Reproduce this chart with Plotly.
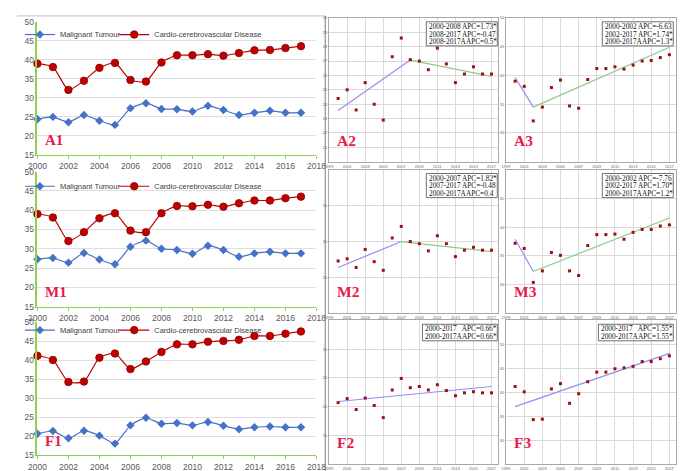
import plotly.graph_objects as go

W, H = 685, 471

# ---------------- data ----------------
years = list(range(2000, 2018))
left_xticks = list(range(2000, 2019, 2))
small_xticks = list(range(1999, 2018, 2))

a_tumour = [24.4, 25.0, 23.6, 25.5, 24.0, 22.9, 27.3, 28.6, 27.1, 27.0, 26.4, 27.9, 26.8, 25.5, 26.1, 26.6, 26.1, 26.1]
a_cardio = [39.0, 38.1, 32.1, 34.5, 37.9, 39.2, 34.7, 34.3, 39.3, 41.2, 41.2, 41.5, 41.1, 41.8, 42.5, 42.6, 43.1, 43.6]
m_tumour = [27.3, 27.6, 26.4, 28.9, 27.2, 26.0, 30.5, 32.1, 30.0, 29.7, 28.7, 30.8, 29.7, 27.9, 28.8, 29.2, 28.8, 28.8]
m_cardio = [39.0, 38.1, 32.0, 34.3, 37.9, 39.2, 34.7, 34.3, 39.2, 41.1, 41.0, 41.4, 40.9, 41.8, 42.5, 42.5, 43.1, 43.5]
m_cardio_jp = [37.2, 36.3, 30.4, 32.4, 35.6, 35.1, 32.4, 31.6, 36.8, 38.7, 38.7, 38.8, 37.9, 39.1, 39.6, 39.6, 40.2, 40.4]
f_tumour = [20.7, 21.4, 19.5, 21.5, 20.2, 18.1, 22.9, 24.9, 23.3, 23.5, 22.9, 23.8, 22.8, 21.9, 22.4, 22.6, 22.4, 22.4]
f_cardio = [41.2, 40.1, 34.3, 34.4, 40.7, 41.8, 37.7, 39.7, 42.2, 44.2, 44.2, 44.9, 45.1, 45.4, 46.4, 46.4, 47.0, 47.6]

# joinpoint fitted segments: (x list, y list)
a2_seg1 = ([2000, 2008], [23.56, 27.07]); a2_seg2 = ([2008, 2017], [27.07, 25.93])
a3_seg1 = ([2000, 2002], [39.65, 34.5]);  a3_seg2 = ([2002, 2017], [34.5, 44.9])
m2_seg1 = ([2000, 2007], [26.4, 30.0]);   m2_seg2 = ([2007, 2017], [30.0, 28.6])
m3_seg1 = ([2000, 2002], [37.9, 32.3]);   m3_seg2 = ([2002, 2017], [32.3, 41.6])
f2_seg1 = ([2000, 2017], [20.9, 23.5])
f3_seg1 = ([2000, 2017], [37.0, 48.1])

a2_text = ["2000-2008 APC=1.73*", "2008-2017 APC=-0.47", "2008-2017AAPC=0.5*"]
a3_text = ["2000-2002 APC=-6.63", "2002-2017 APC=1.74*", "2000-2017AAPC=1.3*"]
m2_text = ["2000-2007 APC=1.82*", "2007-2017 APC=-0.48", "2000-2017AAPC=0.4"]
m3_text = ["2000-2002 APC=-7.76", "2002-2017 APC=1.70*", "2000-2017AAPC=1.2*"]
f2_text = ["2000-2017   APC=0.66*", "2000-2017AAPC=0.66*"]
f3_text = ["2000-2017   APC=1.55*", "2000-2017AAPC=1.55*"]

series_names = ["Malignant Tumour", "Cardio-cerebrovascular Disease"]

# ---------------- helpers ----------------
def fx(p):
    return p / W

def fy(p):
    return 1 - p / H

fig = go.Figure()
layout = dict(width=W, height=H, margin=dict(l=0, r=0, t=0, b=0),
              paper_bgcolor="white", plot_bgcolor="white", showlegend=True)
shapes, annotations = [], []

BLUE = "#4472c4"
RED = "#c00000"
GREEN_AX = "#92d050"
LABEL_COL = "#e8194b"
LEG_FONT = dict(family="Liberation Sans", size=7.5, color="#404040")

# ---------- left panels ----------
left_panels = [
    ("A1", a_tumour, a_cardio, (9, 145), 21),
    ("M1", m_tumour, m_cardio, (162, 300), 176),
    ("F1", f_tumour, f_cardio, (316, 452), 323),
]
for i, (lab, tum, car, (top, bot), leg_y) in enumerate(left_panels):
    k = i + 1
    xs = "" if k == 1 else str(k)
    leg1 = "legend" if i == 0 else "legend" + str(2 * i + 1)
    leg2 = "legend" + str(2 * i + 2)
    fig.add_trace(go.Scatter(x=years, y=tum, mode="lines+markers", name=series_names[0],
                             xaxis="x" + xs, yaxis="y" + xs, legend=leg1, cliponaxis=False,
                             line=dict(color=BLUE, width=1.2, shape="spline", smoothing=0.5),
                             marker=dict(symbol="diamond", size=6.5, color=BLUE)))
    fig.add_trace(go.Scatter(x=years, y=car, mode="lines+markers", name=series_names[1],
                             xaxis="x" + xs, yaxis="y" + xs, legend=leg2, cliponaxis=False,
                             line=dict(color=RED, width=1.2, shape="spline", smoothing=0.6),
                             marker=dict(symbol="circle", size=7.5, color=RED,
                                         line=dict(color="#8b0000", width=0.8))))
    layout["xaxis" + xs] = dict(domain=[fx(21), fx(308)], range=[2000, 2018], anchor="y" + xs,
                                tickvals=left_xticks, showgrid=False, zeroline=False,
                                showline=True, linecolor=GREEN_AX, linewidth=1,
                                ticks="outside", ticklen=3, tickcolor=GREEN_AX,
                                tickfont=dict(family="Liberation Sans", size=8.5, color="#595959"))
    layout["yaxis" + xs] = dict(domain=[fy(bot), fy(top)], range=[15, 50], anchor="x" + xs,
                                dtick=5, tick0=15, showgrid=True, gridcolor="#dedede", zeroline=False,
                                showline=True, linecolor=GREEN_AX, linewidth=1.5, ticks="",
                                tickfont=dict(family="Liberation Sans", size=8.5, color="#595959"))
    layout[leg1] = dict(x=fx(3), y=fy(leg_y + 1), xanchor="left", yanchor="middle",
                        bgcolor="rgba(0,0,0,0)", itemwidth=30, font=LEG_FONT)
    layout[leg2] = dict(x=fx(100), y=fy(leg_y + 1), xanchor="left", yanchor="middle",
                        bgcolor="rgba(0,0,0,0)", itemwidth=30, font=LEG_FONT)
    annotations.append(dict(text="<b>" + lab + "</b>", xref="paper", yref="paper",
                            x=fx(27), y=fy(bot - 15), xanchor="left", yanchor="middle",
                            showarrow=False,
                            font=dict(family="Liberation Serif", size=15, color=LABEL_COL)))

# ---------- small joinpoint panels ----------
small_panels = [
    ("A2", a_tumour, [a2_seg1, a2_seg2], a2_text, (321, 495), (5, 152), (20, 30), 1, True),
    ("A3", a_cardio, [a3_seg1, a3_seg2], a3_text, (503, 678), (5, 152), (25, 50), 5, True),
    ("M2", m_tumour, [m2_seg1, m2_seg2], m2_text, (321, 495), (160, 307), (20, 40), 5, False),
    ("M3", m_cardio_jp, [m3_seg1, m3_seg2], m3_text, (503, 678), (160, 307), (25, 50), 5, False),
    ("F2", f_tumour, [f2_seg1], f2_text, (321, 495), (314, 461), (10, 35), 5, False),
    ("F3", f_cardio, [f3_seg1], f3_text, (503, 678), (314, 461), (25, 55), 5, False),
]
seg_colors = ["#8f8ff5", "#8dc98d"]
for j, (lab, pts, segs, txt, (xl, xr), (top, bot), yr, dt, keep_top) in enumerate(small_panels):
    k = j + 4
    xs = str(k)
    for s, (sx, sy) in enumerate(segs):
        fig.add_trace(go.Scatter(x=sx, y=sy, mode="lines", showlegend=False,
                                 xaxis="x" + xs, yaxis="y" + xs,
                                 line=dict(color=seg_colors[s], width=1.2)))
    fig.add_trace(go.Scatter(x=years, y=pts, mode="markers", showlegend=False,
                             xaxis="x" + xs, yaxis="y" + xs, cliponaxis=False,
                             marker=dict(symbol="square", size=3, color="#9b1010")))
    yvals = list(range(yr[0], yr[1] + 1, dt))
    ylab = [str(v) if (v != yr[0] and (keep_top or v != yr[1])) else "" for v in yvals]
    layout["xaxis" + xs] = dict(domain=[fx(xl), fx(xr)], range=[1999, 2017.75], anchor="y" + xs,
                                tickvals=small_xticks, showgrid=True, gridcolor="#dadada",
                                zeroline=False, showline=True, mirror=True, linecolor="#a8a8a8",
                                ticks="", tickfont=dict(family="Liberation Sans", size=4, color="#666"))
    layout["yaxis" + xs] = dict(domain=[fy(bot), fy(top)], range=list(yr), anchor="x" + xs,
                                tickvals=yvals, ticktext=ylab, showgrid=True, gridcolor="#dadada",
                                zeroline=False, showline=True, mirror=True, linecolor="#a8a8a8",
                                ticks="", tickfont=dict(family="Liberation Sans", size=4, color="#666"))
    annotations.append(dict(text="<b>" + lab + "</b>", xref="paper", yref="paper",
                            x=fx(xl + 6), y=fy(bot - 22), xanchor="left", yanchor="middle",
                            showarrow=False,
                            font=dict(family="Liberation Serif", size=15.5, color=LABEL_COL)))
    # APC text box
    n = len(txt)
    bx_r = xr - 1 if xl < 500 else xr - 3
    bx_l = bx_r - (73 if n == 3 else 77)
    bx_t = top + 4
    line_h = 7.7
    bx_b = bx_t + n * line_h + 1.5
    shapes.append(dict(type="rect", xref="paper", yref="paper",
                       x0=fx(bx_l), x1=fx(bx_r), y0=fy(bx_b), y1=fy(bx_t),
                       line=dict(color="#707070", width=1), fillcolor="white"))
    for t_i, line in enumerate(txt):
        annotations.append(dict(text=line, xref="paper", yref="paper",
                                x=fx(bx_l + 0.5), y=fy(bx_t + 1 + line_h * (t_i + 0.5)),
                                xanchor="left", yanchor="middle", showarrow=False,
                                font=dict(family="Liberation Serif", size=7.3, color="#111")))

# frame lines of the composite
shapes.append(dict(type="line", xref="paper", yref="paper", x0=fx(317), x1=fx(317),
                   y0=fy(471), y1=fy(3), line=dict(color="#7a7a7a", width=1)))
shapes.append(dict(type="line", xref="paper", yref="paper", x0=fx(0), x1=fx(317),
                   y0=fy(3), y1=fy(3), line=dict(color="#c0c0c0", width=1)))

layout["shapes"] = shapes
layout["annotations"] = annotations
fig.update_layout(**layout)
fig.write_html("out.html")
